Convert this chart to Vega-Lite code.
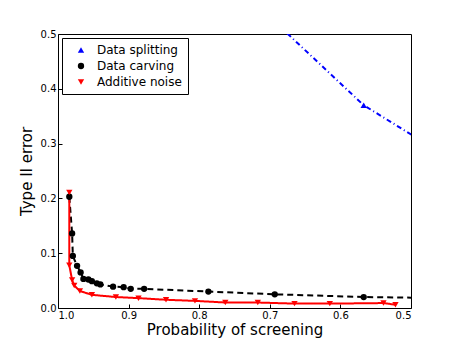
{
  "$schema": "https://vega.github.io/schema/vega-lite/v6.json",
  "autosize": "none",
  "width": 353,
  "height": 274,
  "padding": {"left": 58, "top": 34, "right": 46, "bottom": 35},
  "background": "white",
  "config": {
    "font": "DejaVu Sans",
    "view": {"stroke": "black", "strokeWidth": 1},
    "axis": {"grid": false, "domain": false, "tickColor": "black", "tickSize": -4, "labelColor": "black", "labelFontSize": 10, "labelFont": "DejaVu Sans", "titleFont": "DejaVu Sans", "titleFontSize": 15, "titleFontWeight": "normal", "titleColor": "black", "labelPadding": 6}
  },
  "data": {"values": [
    {"s": "Data splitting", "p": 0.70, "e": 0.531},
    {"s": "Data splitting", "p": 0.567, "e": 0.370},
    {"s": "Data splitting", "p": 0.45, "e": 0.277},
    {"s": "Data carving", "p": 0.984, "e": 0.203},
    {"s": "Data carving", "p": 0.980, "e": 0.136},
    {"s": "Data carving", "p": 0.979, "e": 0.095},
    {"s": "Data carving", "p": 0.973, "e": 0.077},
    {"s": "Data carving", "p": 0.968, "e": 0.065},
    {"s": "Data carving", "p": 0.964, "e": 0.053},
    {"s": "Data carving", "p": 0.957, "e": 0.052},
    {"s": "Data carving", "p": 0.952, "e": 0.049},
    {"s": "Data carving", "p": 0.945, "e": 0.045},
    {"s": "Data carving", "p": 0.940, "e": 0.043},
    {"s": "Data carving", "p": 0.922, "e": 0.039},
    {"s": "Data carving", "p": 0.907, "e": 0.038},
    {"s": "Data carving", "p": 0.897, "e": 0.035},
    {"s": "Data carving", "p": 0.878, "e": 0.035},
    {"s": "Data carving", "p": 0.787, "e": 0.030},
    {"s": "Data carving", "p": 0.693, "e": 0.025},
    {"s": "Data carving", "p": 0.567, "e": 0.020},
    {"s": "Data carving", "p": 0.45, "e": 0.018},
    {"s": "Additive noise", "p": 0.984, "e": 0.211},
    {"s": "Additive noise", "p": 0.984, "e": 0.078},
    {"s": "Additive noise", "p": 0.980, "e": 0.051},
    {"s": "Additive noise", "p": 0.977, "e": 0.041},
    {"s": "Additive noise", "p": 0.969, "e": 0.031},
    {"s": "Additive noise", "p": 0.952, "e": 0.024},
    {"s": "Additive noise", "p": 0.918, "e": 0.020},
    {"s": "Additive noise", "p": 0.886, "e": 0.018},
    {"s": "Additive noise", "p": 0.847, "e": 0.015},
    {"s": "Additive noise", "p": 0.806, "e": 0.013},
    {"s": "Additive noise", "p": 0.763, "e": 0.010},
    {"s": "Additive noise", "p": 0.717, "e": 0.010},
    {"s": "Additive noise", "p": 0.665, "e": 0.008},
    {"s": "Additive noise", "p": 0.615, "e": 0.008},
    {"s": "Additive noise", "p": 0.539, "e": 0.009},
    {"s": "Additive noise", "p": 0.522, "e": 0.006}
  ]},
  "encoding": {
    "x": {"field": "p", "type": "quantitative", "scale": {"domain": [0.5, 1.0], "reverse": true, "nice": false, "zero": false}, "axis": {"values": [0.5, 0.6, 0.7, 0.8, 0.9, 1.0], "format": ".1f", "title": "Probability of screening", "titlePadding": 2}},
    "y": {"field": "e", "type": "quantitative", "scale": {"domain": [0, 0.5], "nice": false}, "axis": {"values": [0, 0.1, 0.2, 0.3, 0.4, 0.5], "format": ".1f", "title": "Type II error", "titlePadding": 6}},
    "color": {"field": "s", "type": "nominal", "scale": {"domain": ["Data splitting", "Data carving", "Additive noise"], "range": ["#0000ff", "#000000", "#ff0000"]},
      "legend": {"title": null, "orient": "top-left", "offset": 4, "strokeColor": "black", "fillColor": "white", "padding": 6, "labelFontSize": 12, "labelFont": "DejaVu Sans", "labelColor": "black", "labelOffset": 10, "symbolOffset": 7, "symbolSize": 40, "rowPadding": 4, "symbolStrokeWidth": 0, "symbolOpacity": 1}}
  },
  "layer": [
    {
      "mark": {"type": "line", "clip": true, "strokeWidth": 2},
      "encoding": {
        "strokeDash": {"field": "s", "type": "nominal", "scale": {"domain": ["Data splitting", "Data carving", "Additive noise"], "range": [[5, 3, 1, 3], [6, 4], [1, 0]]}, "legend": null}
      }
    },
    {
      "mark": {"type": "point", "clip": true, "filled": true, "size": 40, "opacity": 1},
      "encoding": {
        "shape": {"field": "s", "type": "nominal", "scale": {"domain": ["Data splitting", "Data carving", "Additive noise"], "range": ["triangle-up", "circle", "triangle-down"]}}
      }
    }
  ]
}
